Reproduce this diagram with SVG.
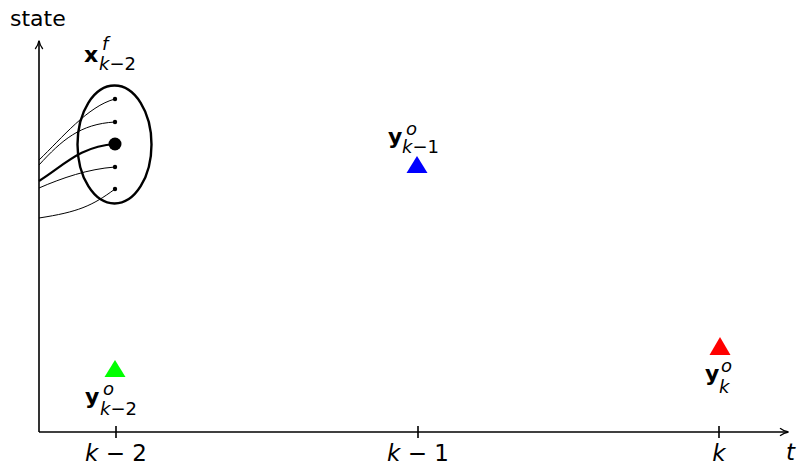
<svg xmlns="http://www.w3.org/2000/svg" width="802" height="467" viewBox="0 0 802 467">
<style>
text{font-family:"DejaVu Sans",sans-serif;fill:#000}
.lab{font-size:22px}
.tick{font-size:23px}
.b{font-weight:bold}
.it{font-style:italic}
.s{font-size:18px}
.axis{stroke:#000;stroke-width:1.6;fill:none}
.thin{stroke:#000;stroke-width:1;fill:none}
.thick{stroke:#000;stroke-width:2.2;fill:none}
</style>
<defs>
<marker id="arr" viewBox="0 0 10 10" refX="9" refY="5" markerWidth="10" markerHeight="10" markerUnits="userSpaceOnUse" orient="auto">
<path d="M1,1.2 Q5,4.2 9.5,5 Q5,5.8 1,8.8" fill="none" stroke="#000" stroke-width="1.3"/>
</marker>
</defs>
<g id="connectors">
<line class="axis" x1="39" y1="432" x2="39" y2="41" marker-end="url(#arr)"/>
<line class="axis" x1="39" y1="432" x2="788" y2="432" marker-end="url(#arr)"/>
<line class="axis" x1="116" y1="426" x2="116" y2="438"/>
<line class="axis" x1="418" y1="426" x2="418" y2="438"/>
<line class="axis" x1="719" y1="426" x2="719" y2="438"/>
<path class="thin" d="M39,160 C62,138 88,106 115,99"/>
<path class="thin" d="M39,165 C62,140 80,124 115,122"/>
<path class="thick" d="M39,181 C62,167 80,146 115,144"/>
<path class="thin" d="M39,188 C62,178 88,169 115,167"/>
<path class="thin" d="M39,218 C78,212 92,206 115,189"/>
</g>
<g id="ensemble">
<ellipse cx="114.5" cy="144.5" rx="37" ry="59" fill="none" stroke="#000" stroke-width="2.4"/>
<circle cx="115" cy="99" r="2.2"/>
<circle cx="115" cy="122" r="2.2"/>
<circle cx="115" cy="144" r="6.5"/>
<circle cx="115" cy="167" r="2.2"/>
<circle cx="115" cy="189" r="2.2"/>
<text class="lab" x="84" y="62"><tspan class="b">x</tspan><tspan class="s it" x="102" y="50">f</tspan><tspan class="s it" x="99" y="70">k</tspan><tspan class="s">−2</tspan></text>
</g>
<g id="axis-labels">
<text class="lab" x="10" y="26">state</text>
<text class="tick it" x="786" y="460">t</text>
<text class="tick" x="116" y="461" text-anchor="middle"><tspan class="it">k</tspan> − 2</text>
<text class="tick" x="418" y="461" text-anchor="middle"><tspan class="it">k</tspan> − 1</text>
<text class="tick it" x="719" y="461" text-anchor="middle">k</text>
</g>
<g id="obs-k-2">
<polygon points="115,360 125.5,377 104.5,377" fill="#00ff00"/>
<text class="lab" x="85" y="404"><tspan class="b">y</tspan><tspan class="s it" x="103" y="395">o</tspan><tspan class="s it" x="100" y="415">k</tspan><tspan class="s">−2</tspan></text>
</g>
<g id="obs-k-1">
<polygon points="417,156 427.5,173 406.5,173" fill="#0000ff"/>
<text class="lab" x="388" y="144"><tspan class="b">y</tspan><tspan class="s it" x="406" y="135">o</tspan><tspan class="s it" x="402" y="153">k</tspan><tspan class="s">−1</tspan></text>
</g>
<g id="obs-k">
<polygon points="720,337 730.5,355 709.5,355" fill="#ff0000"/>
<text class="lab" x="705" y="381"><tspan class="b">y</tspan><tspan class="s it" x="721" y="372">o</tspan><tspan class="s it" x="719" y="393">k</tspan></text>
</g>
</svg>
